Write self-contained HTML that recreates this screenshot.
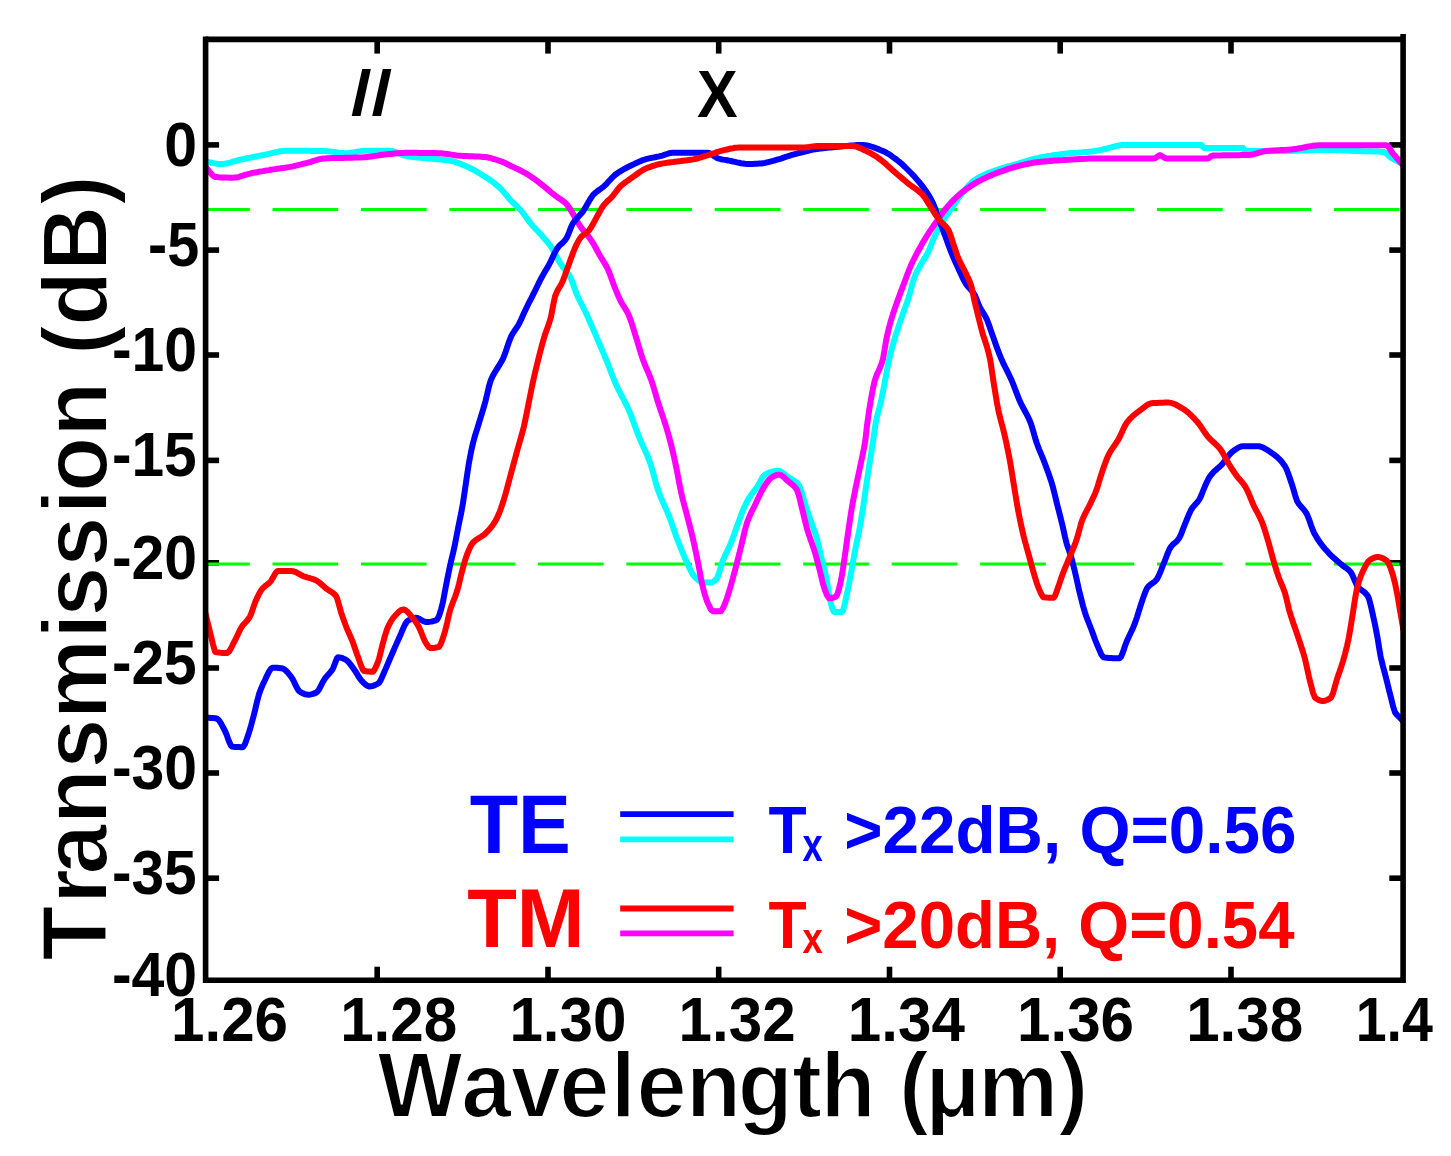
<!DOCTYPE html>
<html lang="en"><head><meta charset="utf-8"><title>Transmission vs Wavelength</title>
<style>html,body{margin:0;padding:0;background:#fff;overflow:hidden}svg{display:block}text{font-family:"Liberation Sans",Arial,Helvetica,sans-serif;font-weight:bold;font-kerning:none}</style>
</head><body>
<svg width="1451" height="1156" viewBox="0 0 1451 1156">
<rect width="1451" height="1156" fill="#fff"/>
<defs><clipPath id="plot"><rect x="204" y="39.4" width="1199" height="940.8"/></clipPath></defs>
<g stroke="#000" stroke-width="5.6" fill="none">
<line x1="377.2" y1="39.4" x2="377.2" y2="53.6"/>
<line x1="377.2" y1="980.2" x2="377.2" y2="966.7"/>
<line x1="548.0" y1="39.4" x2="548.0" y2="53.6"/>
<line x1="548.0" y1="980.2" x2="548.0" y2="966.7"/>
<line x1="718.7" y1="39.4" x2="718.7" y2="53.6"/>
<line x1="718.7" y1="980.2" x2="718.7" y2="966.7"/>
<line x1="889.5" y1="39.4" x2="889.5" y2="53.6"/>
<line x1="889.5" y1="980.2" x2="889.5" y2="966.7"/>
<line x1="1060.2" y1="39.4" x2="1060.2" y2="53.6"/>
<line x1="1060.2" y1="980.2" x2="1060.2" y2="966.7"/>
<line x1="1231.0" y1="39.4" x2="1231.0" y2="53.6"/>
<line x1="1231.0" y1="980.2" x2="1231.0" y2="966.7"/>
<line x1="205.6" y1="144.9" x2="219.1" y2="144.9"/>
<line x1="1403.1" y1="144.9" x2="1389.3" y2="144.9"/>
<line x1="205.6" y1="250.1" x2="219.1" y2="250.1"/>
<line x1="1403.1" y1="250.1" x2="1389.3" y2="250.1"/>
<line x1="205.6" y1="355.0" x2="219.1" y2="355.0"/>
<line x1="1403.1" y1="355.0" x2="1389.3" y2="355.0"/>
<line x1="205.6" y1="460.4" x2="219.1" y2="460.4"/>
<line x1="1403.1" y1="460.4" x2="1389.3" y2="460.4"/>
<line x1="205.6" y1="562.8" x2="219.1" y2="562.8"/>
<line x1="1403.1" y1="562.8" x2="1389.3" y2="562.8"/>
<line x1="205.6" y1="668.0" x2="219.1" y2="668.0"/>
<line x1="1403.1" y1="668.0" x2="1389.3" y2="668.0"/>
<line x1="205.6" y1="773.0" x2="219.1" y2="773.0"/>
<line x1="1403.1" y1="773.0" x2="1389.3" y2="773.0"/>
<line x1="205.6" y1="878.2" x2="219.1" y2="878.2"/>
<line x1="1403.1" y1="878.2" x2="1389.3" y2="878.2"/>
</g>
<g clip-path="url(#plot)" stroke="#00ff00" stroke-width="3" fill="none" stroke-dasharray="65.7 22.75">
<line x1="184.05" y1="209.6" x2="1401" y2="209.6"/>
<line x1="184.05" y1="563.9" x2="1401" y2="563.9"/>
</g>
<g clip-path="url(#plot)" fill="none" stroke-width="6" stroke-linejoin="round" stroke-linecap="butt">
<path stroke="#00ffff" d="M203.0 161.0L205.0 161.3L206.2 161.5L207.0 161.6L209.0 162.1L211.0 162.5L213.0 163.0L215.0 163.4L217.0 163.7L219.0 163.9L220.8 164.0L221.0 164.0L223.0 163.9L225.0 163.7L227.0 163.3L229.0 162.8L231.0 162.3L233.0 161.7L235.0 161.1L237.0 160.5L239.0 160.0L241.0 159.5L241.5 159.4L243.0 159.1L245.0 158.7L247.0 158.3L249.0 157.9L251.0 157.5L253.0 157.1L255.0 156.7L257.0 156.3L259.0 155.9L261.0 155.5L262.3 155.3L263.0 155.2L265.0 154.7L267.0 154.3L269.0 153.8L271.0 153.3L273.0 152.8L275.0 152.3L277.0 151.9L279.0 151.5L281.0 151.2L283.0 150.9L285.0 150.8L287.0 150.7L287.2 150.7L289.0 150.7L291.0 150.7L293.0 150.7L295.0 150.7L297.0 150.7L299.0 150.7L301.0 150.8L303.0 150.8L305.0 150.8L307.0 150.8L309.0 150.8L311.0 150.9L313.0 150.9L315.0 150.9L317.0 151.0L319.0 151.0L321.0 151.0L323.0 151.1L324.6 151.1L325.0 151.1L327.0 151.2L329.0 151.4L331.0 151.6L333.0 151.9L335.0 152.2L337.0 152.5L339.0 152.8L341.0 153.0L343.0 153.1L345.0 153.2L345.3 153.2L347.0 153.2L349.0 153.0L351.0 152.7L353.0 152.4L355.0 152.1L357.0 151.7L359.0 151.4L361.0 151.1L363.0 150.8L365.0 150.7L366.0 150.7L367.0 150.7L369.0 150.7L371.0 150.7L373.0 150.7L375.0 150.7L377.0 150.7L379.0 150.7L381.0 150.7L383.0 150.7L385.0 150.7L387.0 150.7L388.9 150.7L389.0 150.7L391.0 150.9L393.0 151.3L395.0 151.9L397.0 152.6L399.0 153.5L401.0 154.3L403.0 155.1L405.0 155.7L407.0 156.2L407.6 156.3L409.0 156.5L411.0 156.8L413.0 157.0L415.0 157.2L417.0 157.4L419.0 157.6L421.0 157.7L423.0 157.9L425.0 158.1L427.0 158.3L428.4 158.4L429.0 158.5L431.0 158.6L433.0 158.8L435.0 159.0L437.0 159.2L439.0 159.3L441.0 159.5L443.0 159.7L445.0 159.9L447.0 160.2L449.0 160.5L451.0 160.9L453.0 161.4L455.0 161.9L457.0 162.6L459.0 163.3L461.0 164.1L463.0 164.9L465.0 165.7L465.7 166.0L467.0 166.6L469.0 167.5L471.0 168.5L473.0 169.5L475.0 170.6L477.0 171.8L479.0 173.0L481.0 174.2L482.3 175.0L483.0 175.4L485.0 176.7L487.0 178.0L489.0 179.3L491.0 180.7L493.0 182.2L495.0 183.7L497.0 185.4L499.0 187.1L500.0 188.0L501.0 189.0L503.0 191.2L505.0 193.6L507.0 196.0L509.0 198.4L510.4 200.0L511.0 200.6L513.0 202.6L515.0 204.5L517.0 206.4L519.0 208.4L520.8 210.3L521.0 210.5L523.0 213.0L525.0 215.7L527.0 218.5L529.0 221.3L531.0 223.8L533.0 226.1L535.0 228.3L537.0 230.3L539.0 232.4L541.0 234.6L541.5 235.2L543.0 236.9L545.0 239.2L547.0 241.5L549.0 244.0L550.9 246.6L551.0 246.7L553.0 250.0L555.0 253.7L557.0 257.5L559.0 261.2L560.2 263.2L561.0 264.4L563.0 267.1L565.0 269.6L567.0 272.1L569.0 275.0L570.6 277.8L571.0 278.6L573.0 283.7L575.0 289.6L576.8 294.4L577.0 294.9L579.0 299.2L581.0 303.1L583.0 307.0L585.0 311.0L587.0 315.3L589.0 319.7L591.0 324.2L593.0 328.8L593.4 329.7L595.0 333.4L597.0 338.1L599.0 342.8L599.6 344.2L601.0 347.5L603.0 352.1L605.0 356.8L605.9 359.0L607.0 361.7L609.0 366.8L611.0 372.0L613.0 377.1L615.0 382.0L616.3 385.0L617.0 386.5L619.0 390.7L621.0 394.5L623.0 398.3L625.0 402.1L627.0 406.1L628.7 409.8L629.0 410.5L631.0 415.4L633.0 420.7L635.0 426.2L637.0 431.6L639.0 436.8L641.0 441.5L643.0 445.9L645.0 450.3L647.0 454.9L649.0 459.8L650.0 462.5L651.0 465.5L653.0 472.3L655.0 479.7L657.0 486.8L658.7 492.0L659.0 492.8L661.0 497.9L663.0 502.4L665.0 506.8L667.0 511.2L669.0 516.0L671.0 521.4L673.0 527.1L675.0 532.9L677.0 538.5L677.7 540.3L679.0 543.6L681.0 548.7L683.0 553.6L685.0 558.2L686.3 561.0L687.0 562.5L689.0 566.9L691.0 571.1L693.0 574.7L695.0 577.2L697.0 579.0L699.0 580.6L701.0 581.8L703.0 582.5L704.0 582.6L705.0 582.6L707.0 582.6L709.0 582.6L711.0 582.6L713.0 582.0L715.0 580.4L716.6 578.8L717.0 578.3L719.0 573.2L721.0 566.2L722.7 561.0L723.0 560.2L725.0 555.6L727.0 551.4L729.0 547.2L731.0 542.7L731.3 542.0L733.0 537.6L735.0 532.0L737.0 526.3L738.2 523.0L739.0 520.8L741.0 515.3L743.0 510.1L743.4 509.2L745.0 505.7L747.0 501.6L748.6 498.8L749.0 498.1L751.0 495.2L753.0 492.5L755.0 489.9L757.0 487.1L757.3 486.7L759.0 483.8L761.0 480.0L763.0 476.6L765.0 474.6L767.0 473.6L769.0 472.7L771.0 472.0L773.0 471.4L775.0 471.0L777.0 470.8L778.0 470.8L779.0 470.9L781.0 471.7L783.0 473.0L785.0 474.6L787.0 476.2L788.4 477.2L789.0 477.6L791.0 478.8L793.0 480.0L795.0 481.3L797.0 483.0L798.8 485.0L799.0 485.3L801.0 489.8L803.0 496.5L805.0 503.5L805.7 505.7L807.0 509.6L809.0 515.7L810.9 521.3L811.0 521.6L813.0 527.0L815.0 532.4L817.0 538.6L819.0 547.0L821.0 556.3L821.3 557.6L823.0 564.2L825.0 571.8L826.5 578.4L827.0 581.1L829.0 594.6L830.0 599.8L831.0 603.8L833.0 610.4L834.3 612.0L835.0 612.0L837.0 612.0L839.0 612.0L841.0 612.0L842.0 612.0L843.0 610.7L845.0 602.9L846.4 596.5L847.0 593.9L849.0 584.0L850.7 575.0L851.0 573.4L853.0 561.9L855.0 550.7L857.0 541.1L859.0 531.6L859.3 530.0L861.0 520.4L862.8 509.2L863.0 507.9L865.0 494.1L866.3 485.0L867.0 480.3L869.0 467.1L869.7 462.5L871.0 454.2L873.0 441.3L873.2 440.0L875.0 427.2L875.8 422.3L877.0 416.8L879.0 409.3L881.0 401.5L883.0 391.4L885.0 380.8L887.0 370.3L889.0 360.3L889.3 359.0L891.0 352.0L893.0 344.5L895.0 337.6L895.5 335.9L897.0 331.1L899.0 325.1L901.0 319.2L901.7 317.2L903.0 313.5L905.0 308.0L907.0 302.5L909.0 296.5L911.0 289.1L913.0 281.5L914.2 277.8L915.0 275.8L917.0 271.5L919.0 267.8L920.4 265.3L921.0 264.2L923.0 260.9L925.0 257.7L927.0 254.2L927.7 252.9L929.0 250.1L931.0 245.2L933.0 240.3L933.9 238.3L935.0 235.9L937.0 231.8L939.0 227.8L941.0 224.1L941.2 223.8L943.0 220.8L945.0 217.8L947.0 214.9L949.0 212.0L949.5 211.3L951.0 209.1L953.0 206.0L955.0 203.0L957.0 200.1L959.0 197.3L960.0 196.0L961.0 194.7L963.0 192.2L965.0 189.7L967.0 187.3L969.0 185.0L971.0 183.0L973.0 181.2L974.4 180.2L975.0 179.8L977.0 178.6L979.0 177.4L981.0 176.4L983.0 175.4L985.0 174.5L987.0 173.6L989.0 172.8L991.0 172.1L993.0 171.3L995.0 170.6L997.0 169.9L997.2 169.8L999.0 169.2L1001.0 168.5L1003.0 167.9L1005.0 167.3L1007.0 166.7L1009.0 166.1L1011.0 165.6L1013.0 165.0L1015.0 164.5L1017.0 163.9L1018.0 163.6L1019.0 163.3L1021.0 162.7L1023.0 162.1L1025.0 161.5L1027.0 160.9L1029.0 160.3L1031.0 159.7L1033.0 159.2L1035.0 158.6L1037.0 158.2L1038.7 157.8L1039.0 157.7L1041.0 157.3L1043.0 157.0L1045.0 156.6L1047.0 156.2L1049.0 155.9L1051.0 155.6L1053.0 155.2L1055.0 154.9L1057.0 154.7L1059.0 154.4L1061.0 154.1L1063.0 153.9L1065.0 153.7L1065.7 153.6L1067.0 153.5L1069.0 153.3L1071.0 153.1L1073.0 153.0L1075.0 152.8L1077.0 152.7L1079.0 152.6L1081.0 152.4L1083.0 152.3L1085.0 152.1L1087.0 152.0L1089.0 151.8L1090.6 151.6L1091.0 151.6L1093.0 151.3L1095.0 151.0L1097.0 150.6L1099.0 150.3L1100.0 150.1L1101.0 149.9L1103.0 149.5L1105.0 149.0L1107.0 148.5L1109.0 147.9L1111.0 147.4L1113.0 146.9L1115.0 146.4L1117.0 145.9L1119.0 145.5L1121.0 145.3L1123.0 145.1L1125.0 145.0L1127.0 145.0L1129.0 145.0L1131.0 145.0L1133.0 145.0L1135.0 145.0L1137.0 145.0L1139.0 145.0L1141.0 145.0L1143.0 145.0L1145.0 145.0L1147.0 145.0L1149.0 145.0L1151.0 145.0L1153.0 145.0L1155.0 145.0L1157.0 145.0L1159.0 145.0L1161.0 145.0L1163.0 145.0L1165.0 145.0L1167.0 145.0L1169.0 145.0L1171.0 145.0L1173.0 145.0L1175.0 145.0L1177.0 145.0L1179.0 145.0L1181.0 145.0L1183.0 145.0L1185.0 145.0L1187.0 145.0L1189.0 145.0L1191.0 145.0L1193.0 145.0L1195.0 145.0L1197.0 145.0L1199.0 145.0L1201.0 145.0L1201.7 145.0L1203.0 147.0L1203.8 148.0L1205.0 148.0L1207.0 148.0L1209.0 148.0L1211.0 148.0L1213.0 148.0L1215.0 148.0L1217.0 148.0L1219.0 148.0L1221.0 148.0L1223.0 148.0L1225.0 148.0L1227.0 148.0L1229.0 148.0L1231.0 148.0L1233.0 148.0L1235.0 148.0L1237.0 148.0L1239.0 148.0L1241.0 148.0L1243.0 148.0L1243.2 148.0L1245.0 150.8L1245.3 151.0L1247.0 151.0L1249.0 151.0L1251.0 151.0L1253.0 151.0L1255.0 151.0L1257.0 151.0L1259.0 151.0L1261.0 151.0L1263.0 151.0L1265.0 151.0L1267.0 151.0L1269.0 151.0L1271.0 151.0L1273.0 151.0L1275.0 151.0L1277.0 151.0L1279.0 151.0L1280.0 151.0L1281.0 151.0L1283.0 151.0L1285.0 151.0L1287.0 150.9L1289.0 150.9L1291.0 150.9L1293.0 150.8L1295.0 150.8L1297.0 150.7L1299.0 150.6L1301.0 150.6L1303.0 150.5L1305.0 150.4L1307.0 150.4L1309.0 150.3L1311.0 150.2L1313.0 150.2L1315.0 150.1L1317.0 150.1L1319.0 150.1L1321.0 150.0L1323.0 150.0L1325.0 150.0L1326.0 150.0L1327.0 150.0L1329.0 150.0L1331.0 150.0L1333.0 150.1L1335.0 150.1L1337.0 150.2L1339.0 150.3L1341.0 150.3L1343.0 150.4L1345.0 150.5L1347.0 150.6L1349.0 150.7L1351.0 150.8L1353.0 150.8L1355.0 150.9L1357.0 151.0L1359.0 151.1L1361.0 151.1L1363.0 151.2L1365.0 151.2L1367.0 151.2L1369.0 151.3L1371.0 151.3L1373.0 151.4L1375.0 151.5L1377.0 151.5L1379.0 151.6L1381.0 151.8L1383.0 151.9L1384.0 152.0L1385.0 152.3L1387.0 153.9L1389.0 156.0L1390.6 157.4L1391.0 157.7L1393.0 158.9L1395.0 159.9L1397.0 160.9L1399.0 162.0L1401.0 163.1L1403.0 164.2L1403.5 164.5"/>
<path stroke="#ff00ff" d="M203.0 164.5L205.0 166.5L206.2 167.7L207.0 168.5L209.0 171.0L211.0 173.5L213.0 175.7L215.0 176.9L215.6 177.0L217.0 177.1L219.0 177.3L221.0 177.4L223.0 177.5L225.0 177.6L227.0 177.6L229.0 177.7L231.0 177.7L233.0 177.7L233.2 177.7L235.0 177.6L237.0 177.3L239.0 176.8L241.0 176.2L243.0 175.6L245.0 174.9L247.0 174.3L249.0 173.8L249.8 173.6L251.0 173.3L253.0 172.9L255.0 172.5L257.0 172.2L259.0 171.8L261.0 171.4L263.0 171.1L265.0 170.7L267.0 170.4L269.0 170.1L270.6 169.8L271.0 169.7L273.0 169.4L275.0 169.1L277.0 168.8L279.0 168.6L281.0 168.3L283.0 168.0L285.0 167.7L287.0 167.4L289.0 167.1L291.0 166.8L291.3 166.7L293.0 166.4L295.0 165.9L297.0 165.4L299.0 164.9L301.0 164.4L303.0 163.9L305.0 163.4L307.0 162.9L308.0 162.6L309.0 162.3L311.0 161.8L313.0 161.1L315.0 160.5L317.0 159.9L319.0 159.3L321.0 158.9L323.0 158.5L324.6 158.4L325.0 158.4L327.0 158.3L329.0 158.2L331.0 158.1L333.0 158.1L335.0 158.0L337.0 158.0L339.0 157.9L341.0 157.9L343.0 157.9L345.0 157.8L347.0 157.8L349.0 157.8L351.0 157.7L353.0 157.7L355.0 157.6L357.0 157.6L359.0 157.5L361.0 157.4L362.0 157.4L363.0 157.3L365.0 157.2L367.0 157.0L369.0 156.8L371.0 156.5L373.0 156.2L375.0 155.9L377.0 155.6L379.0 155.3L381.0 155.0L383.0 154.7L385.0 154.5L386.8 154.3L387.0 154.3L389.0 154.1L391.0 153.9L393.0 153.7L395.0 153.5L397.0 153.3L399.0 153.2L401.0 153.0L403.0 152.9L405.0 152.8L407.0 152.8L407.6 152.8L409.0 152.8L411.0 152.8L413.0 152.8L415.0 152.8L417.0 152.8L419.0 152.9L421.0 152.9L423.0 152.9L425.0 152.9L427.0 153.0L429.0 153.0L431.0 153.0L433.0 153.1L435.0 153.1L437.0 153.2L438.7 153.2L439.0 153.2L441.0 153.3L443.0 153.5L445.0 153.7L447.0 154.0L449.0 154.3L451.0 154.6L453.0 154.9L455.0 155.2L457.0 155.5L459.0 155.7L459.5 155.7L461.0 155.8L463.0 155.9L465.0 156.0L467.0 156.1L469.0 156.2L471.0 156.3L473.0 156.3L475.0 156.4L477.0 156.5L479.0 156.6L481.0 156.7L483.0 156.9L484.4 157.0L485.0 157.1L487.0 157.3L489.0 157.7L491.0 158.2L493.0 158.8L495.0 159.4L497.0 160.0L499.0 160.7L500.0 161.0L501.0 161.3L503.0 162.1L505.0 163.0L507.0 164.0L509.0 165.0L511.0 166.0L512.5 166.7L513.0 166.9L515.0 167.9L517.0 168.8L519.0 169.8L521.0 170.8L523.0 171.8L525.0 172.9L527.0 174.0L529.0 175.2L531.0 176.6L533.0 178.0L535.0 179.4L537.0 180.9L539.0 182.5L541.0 184.0L541.5 184.4L543.0 185.6L545.0 187.2L547.0 188.9L549.0 190.6L551.0 192.3L553.0 193.9L554.0 194.7L555.0 195.5L557.0 196.9L559.0 198.2L561.0 199.5L563.0 201.0L565.0 202.6L566.4 204.0L567.0 204.7L569.0 207.4L571.0 210.6L572.7 213.4L573.0 213.9L575.0 217.3L577.0 220.9L579.0 224.3L580.0 225.9L581.0 227.3L583.0 229.9L585.0 232.4L587.0 234.7L589.0 237.2L591.0 240.0L591.3 240.4L593.0 243.1L595.0 246.6L597.0 250.3L599.0 253.9L599.6 255.0L601.0 257.4L603.0 260.6L605.0 263.8L607.0 267.5L608.0 269.5L609.0 271.8L611.0 277.2L613.0 282.8L614.2 286.0L615.0 288.0L617.0 293.0L619.0 297.6L620.4 300.6L621.0 301.8L623.0 305.2L625.0 308.3L627.0 311.6L628.7 315.0L629.0 315.7L631.0 321.1L633.0 327.4L635.0 333.8L637.0 340.3L639.0 347.2L641.0 353.8L642.7 359.0L643.0 359.8L645.0 365.0L647.0 369.7L649.0 374.3L651.0 379.4L651.5 380.8L653.0 385.4L655.0 392.1L657.0 398.9L657.8 401.5L659.0 405.2L661.0 411.2L663.0 417.1L665.0 423.2L666.0 426.4L667.0 429.7L669.0 436.7L669.9 440.0L671.0 444.3L673.0 452.5L675.0 461.4L676.0 466.0L677.0 471.0L679.0 481.9L681.0 492.0L683.0 500.3L685.0 507.7L687.0 515.2L687.2 516.0L689.0 523.0L691.0 530.8L693.0 539.0L693.3 540.3L695.0 548.0L697.0 557.7L698.4 564.6L699.0 567.7L701.0 578.5L702.8 587.0L703.0 587.8L705.0 595.1L707.0 601.2L708.0 603.5L709.0 605.6L711.0 609.6L713.0 611.3L715.0 611.3L717.0 611.3L719.0 611.3L720.5 611.3L721.0 611.1L723.0 608.1L725.0 603.5L727.0 598.2L729.0 591.7L730.4 587.0L731.0 585.0L733.0 577.8L735.0 570.3L736.5 564.6L737.0 562.7L739.0 554.7L741.0 546.6L741.7 543.8L743.0 538.3L745.0 529.8L746.9 523.0L747.0 522.7L749.0 517.5L751.0 513.0L753.0 509.0L755.0 505.0L755.5 504.0L757.0 500.8L759.0 496.5L761.0 492.4L763.0 488.7L764.2 486.7L765.0 485.5L767.0 482.4L769.0 479.8L771.0 478.0L773.0 476.7L775.0 475.6L777.0 474.9L778.9 474.6L779.0 474.6L781.0 475.2L783.0 476.5L785.0 478.3L787.0 480.2L788.4 481.5L789.0 482.0L791.0 483.5L793.0 485.2L795.0 487.2L797.0 490.0L799.0 495.8L801.0 504.2L802.2 509.2L803.0 512.4L805.0 520.7L807.0 528.6L807.4 530.0L809.0 535.1L811.0 540.7L813.0 546.4L814.4 550.7L815.0 552.7L817.0 559.9L819.0 567.5L819.6 569.8L821.0 575.5L823.0 583.9L824.7 589.5L825.0 590.3L827.0 595.2L829.0 598.1L829.5 598.3L831.0 598.2L833.0 597.8L835.0 597.0L836.0 596.5L837.0 595.2L839.0 589.0L841.0 580.3L841.2 579.4L843.0 568.8L844.6 557.6L845.0 554.9L847.0 540.5L848.0 533.4L849.0 526.4L851.0 512.9L851.6 509.2L853.0 501.4L855.0 491.2L855.9 486.7L857.0 481.4L859.0 472.0L861.0 462.5L863.0 453.2L865.0 442.6L865.4 440.0L866.9 426.4L867.0 425.6L869.0 411.3L870.6 401.5L871.0 399.2L873.0 388.2L874.7 380.8L875.0 379.8L877.0 374.2L879.0 369.9L881.0 365.3L883.0 359.0L885.0 347.2L886.2 340.0L887.0 336.2L889.0 327.7L891.0 320.3L891.3 319.3L893.0 313.8L895.0 307.9L897.0 302.3L897.6 300.6L899.0 296.7L901.0 291.4L903.0 286.1L903.8 284.0L905.0 280.8L907.0 275.4L909.0 270.1L911.0 265.3L913.0 261.0L915.0 257.0L917.0 253.2L918.3 250.8L919.0 249.5L921.0 245.9L923.0 242.3L925.0 238.9L926.6 236.3L927.0 235.7L929.0 232.6L931.0 229.6L933.0 226.7L935.0 223.8L937.0 220.9L939.0 217.9L941.0 215.1L943.0 212.3L945.0 209.7L945.3 209.3L947.0 207.2L949.0 204.9L951.0 202.7L953.0 200.5L955.0 198.6L955.7 197.9L957.0 196.7L959.0 194.9L961.0 193.2L963.0 191.6L965.0 190.1L967.0 188.6L969.0 187.2L970.2 186.4L971.0 185.9L973.0 184.6L975.0 183.4L977.0 182.2L979.0 181.1L981.0 180.1L982.7 179.2L983.0 179.1L985.0 178.1L987.0 177.1L989.0 176.2L991.0 175.4L993.0 174.5L995.0 173.7L997.0 173.0L997.2 172.9L999.0 172.2L1001.0 171.5L1003.0 170.8L1005.0 170.1L1007.0 169.4L1009.0 168.7L1011.0 168.1L1013.0 167.5L1015.0 167.0L1016.0 166.7L1017.0 166.4L1019.0 165.9L1021.0 165.4L1023.0 164.9L1025.0 164.4L1027.0 164.0L1029.0 163.5L1031.0 163.2L1033.0 162.8L1034.6 162.6L1035.0 162.5L1037.0 162.3L1039.0 162.1L1041.0 161.8L1043.0 161.6L1045.0 161.4L1047.0 161.2L1049.0 161.1L1051.0 160.9L1053.0 160.7L1055.0 160.6L1057.0 160.5L1059.0 160.3L1061.0 160.2L1063.0 160.1L1065.0 159.9L1065.7 159.9L1067.0 159.8L1069.0 159.7L1071.0 159.6L1073.0 159.5L1075.0 159.3L1077.0 159.2L1079.0 159.1L1081.0 159.0L1083.0 158.9L1085.0 158.8L1087.0 158.7L1089.0 158.6L1091.0 158.6L1093.0 158.5L1095.0 158.4L1097.0 158.4L1099.0 158.4L1100.0 158.4L1101.0 158.4L1103.0 158.4L1105.0 158.4L1107.0 158.4L1109.0 158.4L1111.0 158.4L1113.0 158.4L1115.0 158.4L1117.0 158.4L1119.0 158.4L1121.0 158.4L1123.0 158.4L1125.0 158.4L1127.0 158.4L1129.0 158.4L1131.0 158.4L1133.0 158.4L1135.0 158.4L1137.0 158.4L1139.0 158.4L1141.0 158.4L1143.0 158.4L1145.0 158.4L1147.0 158.4L1149.0 158.4L1151.0 158.4L1153.0 158.4L1154.0 158.4L1155.0 158.2L1157.0 156.9L1159.0 155.5L1160.0 155.3L1161.0 155.5L1163.0 156.7L1165.0 158.0L1166.4 158.4L1167.0 158.4L1169.0 158.4L1171.0 158.4L1173.0 158.4L1175.0 158.4L1177.0 158.4L1179.0 158.4L1181.0 158.4L1183.0 158.4L1185.0 158.4L1187.0 158.4L1189.0 158.4L1191.0 158.4L1193.0 158.4L1195.0 158.4L1197.0 158.4L1199.0 158.4L1201.0 158.4L1203.0 158.4L1205.0 158.4L1207.0 158.4L1208.0 158.4L1209.0 158.0L1211.0 156.2L1212.0 155.7L1213.0 155.6L1215.0 155.6L1217.0 155.5L1219.0 155.4L1221.0 155.4L1223.0 155.3L1225.0 155.3L1227.0 155.3L1229.0 155.3L1231.0 155.2L1233.0 155.2L1235.0 155.2L1237.0 155.2L1239.0 155.2L1241.0 155.1L1243.0 155.1L1245.0 155.1L1247.0 155.0L1249.0 154.9L1249.5 154.9L1251.0 154.8L1253.0 154.4L1255.0 153.9L1257.0 153.4L1259.0 152.7L1261.0 152.1L1263.0 151.6L1265.0 151.2L1266.0 151.1L1267.0 151.0L1269.0 150.8L1271.0 150.7L1273.0 150.5L1275.0 150.4L1277.0 150.3L1279.0 150.2L1281.0 150.1L1283.0 150.0L1285.0 149.9L1287.0 149.8L1289.0 149.7L1291.0 149.5L1293.0 149.3L1295.0 149.0L1297.0 148.7L1299.0 148.3L1301.0 148.0L1303.0 147.6L1305.0 147.2L1307.0 146.8L1309.0 146.4L1311.0 146.1L1313.0 145.8L1315.0 145.6L1317.0 145.4L1319.0 145.3L1320.0 145.3L1321.0 145.3L1323.0 145.3L1325.0 145.3L1327.0 145.3L1329.0 145.3L1331.0 145.3L1333.0 145.3L1335.0 145.3L1337.0 145.3L1339.0 145.3L1341.0 145.3L1343.0 145.3L1345.0 145.3L1347.0 145.3L1349.0 145.3L1351.0 145.3L1353.0 145.3L1355.0 145.3L1357.0 145.3L1359.0 145.3L1361.0 145.3L1363.0 145.3L1365.0 145.3L1367.0 145.3L1369.0 145.3L1371.0 145.3L1373.0 145.3L1375.0 145.3L1377.0 145.3L1379.0 145.3L1381.0 145.3L1383.0 145.3L1385.0 145.3L1386.5 145.3L1387.0 145.4L1389.0 147.4L1391.0 150.7L1392.7 153.2L1393.0 153.6L1395.0 155.9L1397.0 158.2L1399.0 160.5L1401.0 162.8L1403.0 165.1L1403.5 165.7"/>
<path stroke="#0000ff" d="M203.0 717.2L205.0 717.4L206.2 717.5L207.0 717.6L209.0 717.7L211.0 717.9L213.0 718.0L215.0 718.2L216.6 718.5L217.0 718.6L219.0 720.3L221.0 723.4L223.0 727.2L225.0 731.0L227.0 735.7L229.0 741.4L231.0 745.6L232.2 746.6L233.0 746.7L235.0 746.9L237.0 747.0L239.0 747.1L241.0 747.2L242.6 747.2L243.0 747.1L245.0 744.1L247.0 738.4L248.8 733.0L249.0 732.4L251.0 725.8L253.0 718.2L254.0 714.4L255.0 710.4L257.0 701.8L259.0 694.2L259.2 693.6L261.0 688.7L263.0 684.1L264.4 681.2L265.0 680.0L267.0 675.6L269.0 671.6L271.0 668.6L272.7 667.7L273.0 667.7L275.0 667.7L277.0 667.8L279.0 668.0L281.0 668.2L282.0 668.3L283.0 668.6L285.0 669.8L287.0 671.7L289.0 674.1L291.0 676.6L291.3 677.0L293.0 679.7L295.0 683.9L297.0 688.0L299.0 691.0L299.6 691.5L301.0 692.3L303.0 693.4L305.0 694.2L307.0 694.6L308.0 694.7L309.0 694.7L311.0 694.4L313.0 693.9L315.0 693.1L316.3 692.6L317.0 692.1L319.0 689.5L321.0 685.7L323.0 681.7L324.6 679.0L325.0 678.4L327.0 676.0L329.0 673.8L331.0 671.4L332.9 668.7L333.0 668.5L335.0 663.3L337.0 658.2L338.0 657.3L339.0 657.4L341.0 657.7L343.0 658.4L345.0 659.3L345.3 659.4L347.0 660.5L349.0 662.6L351.0 665.2L353.0 667.9L353.6 668.7L355.0 670.7L357.0 673.9L359.0 677.2L361.0 680.1L362.0 681.2L363.0 682.2L365.0 684.1L367.0 685.7L369.0 686.4L369.2 686.4L371.0 686.3L373.0 685.8L375.0 685.1L377.0 684.1L378.5 683.2L379.0 682.8L381.0 679.6L383.0 675.0L384.8 670.8L385.0 670.4L387.0 665.8L389.0 661.0L391.0 656.3L393.0 651.7L395.0 647.1L397.0 642.6L399.0 638.2L399.3 637.6L401.0 633.7L403.0 628.8L405.0 624.5L407.0 621.5L407.6 621.0L409.0 620.1L411.0 619.1L413.0 618.3L415.0 617.9L416.0 617.8L417.0 617.9L419.0 618.7L421.0 619.8L423.0 621.0L425.0 621.8L426.3 622.0L427.0 622.0L429.0 621.9L431.0 621.6L433.0 621.2L435.0 620.6L436.7 620.0L437.0 619.8L439.0 616.1L441.0 609.6L441.9 606.4L443.0 601.8L445.0 591.0L446.0 585.7L447.0 580.7L449.0 570.7L450.2 565.0L451.0 561.5L453.0 553.2L454.3 547.5L455.0 544.1L457.0 533.8L458.5 526.0L459.0 523.5L461.0 513.8L462.6 505.3L463.0 502.9L465.0 489.4L465.7 484.6L467.0 475.6L468.8 463.8L469.0 462.7L471.0 452.0L473.0 443.0L475.0 435.7L477.0 429.3L479.0 423.0L479.2 422.3L481.0 416.4L483.0 409.8L485.0 402.9L485.4 401.5L487.0 394.9L489.0 386.2L490.6 380.8L491.0 379.8L493.0 375.5L495.0 372.0L497.0 368.8L499.0 365.7L500.0 364.0L501.0 362.3L503.0 358.7L505.0 353.7L507.0 347.8L509.0 341.8L511.0 336.7L511.4 335.9L513.0 333.1L515.0 330.1L517.0 327.3L518.7 324.5L519.0 323.9L521.0 319.8L523.0 315.2L524.9 311.0L525.0 310.8L527.0 306.7L529.0 302.7L531.0 298.8L533.0 294.8L533.2 294.4L535.0 290.8L537.0 286.7L539.0 282.6L541.0 278.7L541.5 277.8L543.0 275.1L545.0 271.6L547.0 268.2L549.0 264.7L549.8 263.2L551.0 260.8L553.0 256.4L555.0 252.2L557.0 248.7L559.0 246.2L561.0 244.2L563.0 242.4L565.0 240.2L566.4 238.3L567.0 237.3L569.0 232.6L571.0 227.4L572.7 223.8L573.0 223.3L575.0 220.5L577.0 218.1L579.0 216.0L581.0 213.8L583.0 211.3L585.0 208.2L587.0 204.7L589.0 201.2L591.0 197.9L593.0 195.1L593.4 194.7L595.0 193.1L597.0 191.5L599.0 190.0L601.0 188.6L603.0 187.1L603.8 186.4L605.0 185.3L607.0 183.3L609.0 181.1L611.0 178.9L613.0 176.9L615.0 175.0L616.3 174.0L617.0 173.5L619.0 172.1L621.0 170.9L623.0 169.7L625.0 168.6L627.0 167.5L629.0 166.5L631.0 165.5L632.9 164.6L633.0 164.6L635.0 163.6L637.0 162.7L639.0 161.8L641.0 160.9L643.0 160.2L645.0 159.5L645.3 159.4L647.0 158.9L649.0 158.4L651.0 158.0L653.0 157.6L655.0 157.2L657.0 156.8L659.0 156.4L661.0 155.9L662.0 155.7L663.0 155.4L665.0 154.7L667.0 154.0L669.0 153.3L671.0 152.9L672.3 152.8L673.0 152.8L675.0 152.8L677.0 152.8L679.0 152.8L681.0 152.8L683.0 152.8L685.0 152.8L687.0 152.8L689.0 152.8L691.0 152.8L693.0 152.8L695.0 152.8L697.0 152.8L699.0 152.8L701.0 152.8L703.0 152.8L705.0 152.8L707.0 152.8L707.6 152.8L709.0 153.0L711.0 154.0L713.0 155.4L715.0 156.8L717.0 158.0L718.0 158.4L719.0 158.7L721.0 159.2L723.0 159.6L725.0 159.9L727.0 160.2L728.4 160.5L729.0 160.6L731.0 161.0L733.0 161.5L735.0 161.9L737.0 162.4L739.0 162.8L741.0 163.2L743.0 163.5L745.0 163.8L747.0 163.9L749.0 164.0L751.0 164.0L753.0 163.9L755.0 163.8L757.0 163.7L759.0 163.6L759.5 163.6L761.0 163.5L763.0 163.2L765.0 162.9L767.0 162.4L769.0 162.0L771.0 161.4L773.0 160.9L775.0 160.3L777.0 159.7L778.2 159.4L779.0 159.2L781.0 158.6L783.0 157.9L785.0 157.2L787.0 156.5L789.0 155.8L790.6 155.3L791.0 155.2L793.0 154.6L795.0 154.1L797.0 153.6L799.0 153.0L800.0 152.8L801.0 152.5L803.0 152.0L805.0 151.5L807.0 151.0L809.0 150.5L811.0 150.1L813.0 149.6L815.0 149.3L816.6 149.0L817.0 148.9L819.0 148.7L821.0 148.4L823.0 148.2L825.0 148.0L827.0 147.8L829.0 147.6L831.0 147.4L833.0 147.2L835.0 147.0L835.3 147.0L837.0 146.8L839.0 146.7L841.0 146.5L843.0 146.3L845.0 146.1L847.0 145.9L849.0 145.7L851.0 145.5L853.0 145.4L855.0 145.2L857.0 145.1L859.0 145.1L861.0 145.0L862.3 145.0L863.0 145.0L865.0 145.2L867.0 145.5L869.0 145.9L871.0 146.5L873.0 147.1L875.0 147.8L877.0 148.6L879.0 149.4L881.0 150.3L883.0 151.1L885.0 152.0L887.0 153.1L889.0 154.3L891.0 155.6L893.0 157.1L895.0 158.5L897.0 160.0L897.6 160.5L899.0 161.6L901.0 163.3L903.0 165.1L905.0 167.0L907.0 169.0L909.0 171.0L910.0 172.0L911.0 173.0L913.0 175.1L915.0 177.3L917.0 179.6L919.0 181.9L921.0 184.4L922.5 186.4L923.0 187.1L925.0 189.8L927.0 192.7L929.0 195.8L931.0 199.3L932.9 203.0L933.0 203.2L935.0 208.1L937.0 213.9L939.0 219.6L941.0 224.9L943.0 230.2L945.0 235.5L945.3 236.3L947.0 240.9L949.0 246.4L951.0 251.7L951.5 252.9L953.0 256.5L955.0 261.2L957.0 265.6L958.8 269.5L959.0 269.9L961.0 274.3L963.0 278.5L965.0 282.3L966.0 284.0L967.0 285.4L969.0 287.8L971.0 289.9L973.0 292.3L974.4 294.4L975.0 295.5L977.0 300.4L979.0 305.5L979.6 306.8L981.0 309.4L983.0 312.6L985.0 315.8L986.8 319.3L987.0 319.7L989.0 325.0L991.0 330.9L992.0 333.8L993.0 336.6L995.0 342.3L997.0 347.9L997.2 348.4L999.0 353.1L1001.0 358.1L1001.4 359.0L1003.0 362.6L1005.0 366.7L1007.0 370.7L1009.0 374.8L1011.0 379.0L1011.8 380.8L1013.0 383.7L1015.0 388.8L1017.0 394.1L1019.0 399.2L1020.0 401.5L1021.0 403.7L1023.0 407.5L1025.0 411.2L1027.0 414.9L1029.0 419.0L1030.4 422.3L1031.0 423.9L1033.0 430.4L1035.0 437.5L1036.7 443.0L1037.0 443.8L1039.0 449.1L1041.0 453.9L1043.0 458.7L1045.0 463.8L1047.0 469.2L1049.0 474.7L1051.0 480.7L1052.2 484.6L1053.0 487.4L1055.0 495.4L1057.0 503.7L1057.4 505.3L1059.0 511.6L1061.0 519.5L1062.6 526.0L1063.0 527.7L1065.0 536.9L1066.5 543.0L1067.0 544.7L1069.0 550.3L1070.6 555.0L1071.0 556.4L1073.0 563.9L1074.5 570.0L1075.0 572.1L1077.0 580.9L1079.0 589.8L1080.0 594.0L1081.0 598.0L1083.0 605.8L1085.0 612.7L1087.0 618.4L1089.0 623.5L1091.0 628.5L1091.3 629.3L1093.0 633.9L1095.0 639.5L1097.0 644.5L1097.6 645.9L1099.0 649.2L1101.0 653.8L1103.0 656.9L1103.8 657.3L1105.0 657.5L1107.0 657.7L1109.0 657.9L1111.0 658.0L1113.0 658.2L1115.0 658.2L1117.0 658.3L1119.0 658.3L1119.4 658.3L1121.0 656.8L1123.0 652.0L1125.0 646.0L1126.6 641.7L1127.0 640.8L1129.0 636.5L1131.0 632.3L1133.0 627.9L1135.0 623.0L1137.0 617.1L1139.0 610.6L1141.0 604.4L1143.0 598.4L1145.0 592.7L1147.0 588.3L1147.4 587.7L1149.0 585.8L1151.0 584.2L1153.0 582.8L1155.0 581.3L1156.7 579.4L1157.0 579.0L1159.0 575.2L1161.0 570.4L1163.0 565.2L1164.0 562.8L1165.0 560.3L1167.0 555.0L1169.0 550.1L1170.4 547.5L1171.0 546.7L1173.0 544.4L1175.0 542.7L1177.0 540.9L1178.9 538.5L1179.0 538.3L1181.0 534.3L1183.0 529.1L1185.0 524.0L1187.0 519.1L1189.0 514.2L1191.0 510.0L1191.3 509.5L1193.0 507.0L1195.0 504.8L1197.0 502.6L1199.0 500.0L1199.6 499.0L1201.0 496.1L1203.0 491.0L1204.8 486.6L1205.0 486.2L1207.0 481.8L1209.0 477.9L1210.0 476.3L1211.0 475.0L1213.0 472.7L1215.0 470.7L1217.0 468.9L1219.0 467.2L1221.0 465.3L1222.5 463.8L1223.0 463.2L1225.0 460.7L1227.0 458.0L1229.0 455.3L1231.0 453.0L1232.9 451.3L1233.0 451.2L1235.0 449.8L1237.0 448.5L1239.0 447.3L1241.0 446.5L1243.0 446.2L1243.2 446.2L1245.0 446.2L1247.0 446.2L1249.0 446.2L1251.0 446.2L1253.0 446.2L1255.0 446.2L1257.0 446.2L1257.8 446.2L1259.0 446.3L1261.0 446.7L1263.0 447.5L1265.0 448.6L1267.0 449.8L1269.0 451.1L1271.0 452.5L1272.3 453.4L1273.0 453.9L1275.0 455.3L1277.0 456.9L1279.0 458.8L1281.0 460.9L1283.0 463.4L1284.8 465.9L1285.0 466.2L1287.0 470.3L1289.0 475.7L1291.0 481.7L1292.0 484.6L1293.0 487.8L1295.0 494.9L1297.0 500.8L1297.2 501.2L1299.0 504.2L1301.0 506.6L1303.0 508.8L1305.0 511.1L1306.6 513.6L1307.0 514.4L1309.0 519.3L1311.0 525.1L1313.0 530.5L1313.8 532.3L1315.0 534.6L1317.0 538.0L1319.0 541.1L1320.0 542.5L1321.0 543.9L1323.0 546.5L1325.0 548.9L1327.0 551.1L1329.0 553.3L1329.5 553.8L1331.0 555.3L1333.0 557.2L1335.0 559.0L1337.0 560.8L1339.0 562.5L1341.0 564.2L1343.0 565.8L1345.0 567.2L1347.0 568.6L1349.0 570.3L1351.0 572.5L1353.0 576.3L1355.0 581.3L1357.0 585.5L1357.3 586.0L1359.0 588.0L1361.0 589.7L1363.0 591.1L1365.0 592.7L1367.0 595.0L1368.0 596.5L1369.0 598.8L1371.0 606.4L1373.0 615.5L1373.3 616.8L1375.0 624.6L1377.0 634.9L1377.5 637.6L1379.0 646.9L1380.6 656.3L1381.0 658.2L1383.0 666.5L1385.0 673.9L1385.8 677.0L1387.0 681.8L1389.0 690.0L1391.0 697.8L1393.0 706.1L1395.0 712.3L1397.0 714.9L1399.0 716.8L1399.7 717.5L1401.0 718.9L1403.0 721.2L1403.5 721.7"/>
<path stroke="#ff0000" d="M203.0 603.6L205.0 611.7L207.0 619.8L207.3 621.0L209.0 628.0L211.0 636.1L211.4 637.6L213.0 644.5L215.0 651.5L215.6 652.1L217.0 652.3L219.0 652.6L221.0 652.8L223.0 652.9L225.0 653.0L227.0 653.0L229.0 651.6L231.0 648.3L233.0 644.2L234.3 641.7L235.0 640.4L237.0 636.2L239.0 631.9L241.0 628.0L241.5 627.2L243.0 625.1L245.0 622.9L247.0 620.7L249.0 618.1L249.8 616.8L251.0 614.2L253.0 608.5L255.0 602.6L256.0 600.2L257.0 598.1L259.0 594.0L261.0 590.6L262.3 588.8L263.0 588.0L265.0 586.2L267.0 584.6L269.0 583.1L270.6 581.5L271.0 581.0L273.0 577.6L275.0 573.8L277.0 571.3L277.8 571.0L279.0 571.0L281.0 571.0L283.0 571.0L285.0 571.0L287.0 571.0L289.0 571.0L291.0 571.0L291.3 571.0L293.0 571.2L295.0 571.8L297.0 572.8L299.0 573.9L301.0 575.0L303.0 576.0L303.8 576.3L305.0 576.7L307.0 577.4L309.0 577.9L311.0 578.5L313.0 579.2L315.0 579.9L316.3 580.5L317.0 580.9L319.0 582.2L321.0 583.9L323.0 585.7L325.0 587.5L326.6 588.8L327.0 589.1L329.0 590.4L331.0 591.6L333.0 593.0L335.0 594.8L336.0 596.0L337.0 598.0L339.0 604.8L341.0 612.1L341.2 612.7L343.0 618.0L345.0 623.5L346.4 627.2L347.0 628.7L349.0 633.3L351.0 637.8L352.6 641.7L353.0 642.7L355.0 648.4L357.0 654.2L357.8 656.3L359.0 659.7L361.0 665.6L363.0 670.0L364.0 670.8L365.0 671.0L367.0 671.4L369.0 671.6L371.0 671.8L372.3 671.8L373.0 671.6L375.0 668.9L377.0 664.3L378.5 660.4L379.0 658.9L381.0 650.8L382.7 643.8L383.0 642.7L385.0 635.6L387.0 629.4L387.9 627.2L389.0 624.9L391.0 621.2L393.0 618.2L395.0 615.8L397.0 613.7L399.0 611.7L401.0 610.2L403.0 609.5L403.4 609.5L405.0 609.9L407.0 611.4L409.0 613.5L411.0 615.9L411.8 616.8L413.0 618.2L415.0 620.8L417.0 623.8L419.0 627.2L421.0 631.7L423.0 637.0L425.0 641.4L425.2 641.7L427.0 644.7L429.0 647.3L430.4 648.0L431.0 648.0L433.0 647.9L435.0 647.7L437.0 647.3L438.7 646.9L439.0 646.8L441.0 643.6L443.0 637.8L445.0 631.3L447.0 623.4L449.0 614.4L450.0 610.6L451.0 607.4L453.0 602.0L455.0 597.0L457.0 591.3L457.4 590.0L459.0 583.9L461.0 575.4L462.0 571.4L463.0 567.7L465.0 560.5L466.5 556.0L467.0 554.7L469.0 549.7L471.0 545.5L473.0 542.5L475.0 540.6L477.0 539.2L479.0 538.0L481.0 536.8L483.0 535.5L484.4 534.4L485.0 533.9L487.0 531.9L489.0 529.8L491.0 527.4L493.0 524.7L494.8 522.0L495.0 521.7L497.0 518.0L499.0 513.5L500.0 511.0L501.0 508.3L503.0 502.3L505.0 495.7L505.2 495.0L507.0 488.6L509.0 481.1L511.0 473.5L511.4 472.0L513.0 466.1L515.0 458.8L517.0 451.5L517.6 449.3L519.0 444.3L521.0 437.4L523.0 430.0L523.9 426.4L525.0 421.5L527.0 411.6L529.0 401.5L531.0 391.5L533.0 381.7L533.2 380.8L535.0 372.9L537.0 364.6L538.4 359.0L539.0 356.6L541.0 348.8L543.0 341.4L544.6 335.9L545.0 334.6L547.0 328.9L549.0 323.5L550.9 317.2L551.0 316.8L553.0 306.1L555.0 296.5L557.0 291.6L559.0 288.1L561.0 284.7L562.3 282.0L563.0 280.3L565.0 275.1L567.0 269.4L568.5 265.3L569.0 263.9L571.0 258.3L573.0 252.9L574.7 248.7L575.0 248.0L577.0 243.6L579.0 239.8L580.0 238.3L581.0 237.1L583.0 235.3L585.0 233.8L587.0 232.3L589.0 230.3L589.3 230.0L591.0 227.6L593.0 224.1L595.0 220.3L597.0 216.6L597.6 215.5L599.0 213.0L601.0 209.4L603.0 206.2L603.8 205.1L605.0 203.7L607.0 201.6L609.0 199.8L611.0 197.9L612.0 196.8L613.0 195.6L615.0 193.0L617.0 190.4L619.0 187.9L620.4 186.4L621.0 185.8L623.0 184.1L625.0 182.5L627.0 181.1L629.0 179.7L631.0 178.3L632.9 177.0L633.0 176.9L635.0 175.5L637.0 174.0L639.0 172.5L641.0 171.2L643.0 170.0L645.0 168.9L645.3 168.8L647.0 168.1L649.0 167.3L651.0 166.6L653.0 165.9L655.0 165.3L657.0 164.7L659.0 164.2L661.0 163.8L662.0 163.6L663.0 163.4L665.0 163.1L667.0 162.8L669.0 162.5L671.0 162.2L673.0 162.0L675.0 161.7L676.5 161.5L677.0 161.4L679.0 161.2L681.0 161.0L683.0 160.7L685.0 160.5L687.0 160.3L689.0 160.0L691.0 159.7L693.0 159.4L695.0 159.0L697.0 158.5L699.0 158.0L701.0 157.4L703.0 156.7L705.0 156.1L707.0 155.5L707.6 155.3L709.0 154.9L711.0 154.2L713.0 153.5L715.0 152.9L717.0 152.2L719.0 151.5L721.0 150.9L723.0 150.4L724.2 150.1L725.0 149.9L727.0 149.5L729.0 149.0L731.0 148.5L733.0 148.2L735.0 147.8L737.0 147.7L738.7 147.6L739.0 147.6L741.0 147.6L743.0 147.6L745.0 147.6L747.0 147.6L749.0 147.6L751.0 147.6L753.0 147.6L755.0 147.6L757.0 147.6L759.0 147.6L761.0 147.6L763.0 147.6L765.0 147.6L767.0 147.6L769.0 147.6L771.0 147.6L773.0 147.6L775.0 147.6L777.0 147.6L779.0 147.6L781.0 147.6L783.0 147.6L785.0 147.6L787.0 147.6L789.0 147.6L791.0 147.6L793.0 147.6L795.0 147.6L797.0 147.6L799.0 147.6L800.0 147.6L801.0 147.6L803.0 147.5L805.0 147.4L807.0 147.2L809.0 147.0L811.0 146.7L813.0 146.5L815.0 146.3L817.0 146.1L819.0 146.0L820.8 146.0L821.0 146.0L823.0 146.0L825.0 146.0L827.0 146.0L829.0 146.0L831.0 146.0L833.0 146.0L835.0 146.0L837.0 146.0L839.0 146.0L841.0 146.0L843.0 146.0L845.0 146.0L847.0 146.0L849.0 146.0L851.0 146.0L851.9 146.0L853.0 146.0L855.0 146.4L857.0 146.9L859.0 147.7L861.0 148.6L863.0 149.5L865.0 150.5L866.4 151.1L867.0 151.4L869.0 152.3L871.0 153.4L873.0 154.6L875.0 155.8L877.0 157.1L878.9 158.4L879.0 158.5L881.0 160.0L883.0 161.6L885.0 163.3L887.0 165.1L889.0 167.0L891.0 168.8L893.0 170.6L893.4 170.9L895.0 172.3L897.0 174.0L899.0 175.7L901.0 177.4L903.0 179.1L905.0 180.8L907.0 182.5L908.0 183.3L909.0 184.1L911.0 185.6L913.0 187.0L915.0 188.4L917.0 189.8L919.0 191.4L921.0 193.2L922.5 194.7L923.0 195.3L925.0 197.9L927.0 201.1L929.0 204.4L930.8 207.2L931.0 207.5L933.0 210.6L935.0 213.8L937.0 216.8L939.0 219.6L941.0 221.8L943.0 223.7L945.0 225.6L947.0 227.9L948.4 230.0L949.0 231.1L951.0 236.5L953.0 242.8L953.6 244.6L955.0 248.8L957.0 254.9L957.8 257.0L959.0 259.8L961.0 263.9L963.0 267.6L965.0 271.5L966.0 273.6L967.0 275.7L969.0 279.9L971.0 285.1L971.3 286.0L973.0 293.6L974.4 300.6L975.0 303.2L977.0 311.3L978.5 317.2L979.0 319.2L981.0 327.4L982.7 333.8L983.0 334.8L985.0 340.7L986.8 346.3L987.0 347.0L989.0 354.5L990.0 359.0L991.0 364.7L993.0 378.4L994.0 385.0L995.0 391.1L997.0 403.0L998.3 409.8L999.0 413.0L1001.0 421.1L1003.0 428.6L1004.5 434.7L1005.0 436.9L1007.0 446.0L1009.0 455.9L1009.7 459.6L1011.0 467.1L1013.0 479.7L1013.8 484.6L1015.0 491.9L1017.0 503.9L1018.0 509.5L1019.0 514.7L1021.0 524.6L1023.0 533.6L1023.2 534.4L1025.0 541.5L1027.0 548.7L1029.0 555.7L1029.4 557.2L1031.0 563.2L1033.0 570.5L1034.3 575.0L1035.0 577.3L1037.0 583.7L1038.8 588.5L1039.0 589.0L1041.0 593.7L1043.0 596.9L1043.6 597.2L1045.0 597.4L1047.0 597.6L1049.0 597.7L1051.0 597.8L1053.0 597.8L1053.5 597.8L1055.0 596.0L1057.0 590.4L1058.0 587.5L1059.0 584.8L1061.0 578.7L1062.3 575.0L1063.0 573.2L1065.0 568.2L1067.0 563.4L1068.0 561.0L1069.0 558.6L1071.0 553.9L1073.0 549.2L1075.0 544.2L1076.3 540.6L1077.0 538.4L1079.0 531.2L1081.0 523.8L1082.3 519.9L1083.0 518.2L1085.0 513.9L1087.0 510.1L1089.0 506.4L1090.6 503.2L1091.0 502.3L1093.0 498.1L1095.0 493.6L1096.9 488.7L1097.0 488.4L1099.0 481.8L1100.0 478.5L1101.0 475.4L1103.0 469.3L1105.0 463.6L1107.0 458.4L1108.3 455.5L1109.0 454.1L1111.0 450.6L1113.0 447.6L1115.0 444.7L1117.0 441.7L1118.7 438.9L1119.0 438.4L1121.0 434.2L1123.0 429.8L1125.0 425.6L1127.0 422.3L1129.0 419.9L1131.0 417.8L1133.0 415.9L1135.0 414.2L1137.0 412.7L1139.0 411.2L1139.4 410.9L1141.0 409.7L1143.0 408.1L1145.0 406.5L1147.0 405.1L1149.0 404.0L1151.0 403.3L1151.9 403.2L1153.0 403.1L1155.0 403.0L1157.0 402.9L1159.0 402.8L1161.0 402.7L1163.0 402.7L1165.0 402.6L1167.0 402.6L1168.5 402.6L1169.0 402.6L1171.0 402.9L1173.0 403.5L1175.0 404.3L1177.0 405.3L1179.0 406.4L1181.0 407.6L1183.0 408.8L1185.0 410.1L1187.0 411.6L1189.0 413.3L1191.0 415.2L1193.0 417.3L1195.0 419.4L1197.0 421.6L1197.6 422.3L1199.0 424.0L1201.0 426.8L1203.0 429.8L1205.0 432.8L1207.0 435.6L1208.0 436.8L1209.0 437.9L1211.0 440.0L1213.0 441.8L1215.0 443.6L1217.0 445.5L1219.0 447.6L1220.4 449.3L1221.0 450.1L1223.0 453.4L1225.0 457.1L1227.0 460.8L1228.7 463.8L1229.0 464.3L1231.0 467.5L1233.0 470.5L1235.0 473.5L1237.0 476.3L1239.0 478.8L1241.0 481.0L1243.0 483.4L1245.0 486.1L1245.3 486.6L1247.0 489.8L1249.0 494.3L1251.0 499.2L1253.0 504.0L1253.6 505.3L1255.0 508.1L1257.0 511.9L1259.0 515.6L1261.0 519.8L1261.9 521.9L1263.0 524.8L1265.0 530.7L1267.0 537.3L1268.0 540.6L1269.0 544.1L1271.0 551.5L1273.0 558.9L1273.6 561.0L1275.0 565.7L1277.0 572.1L1279.0 578.0L1281.0 583.0L1283.0 587.6L1284.8 592.5L1285.0 593.1L1287.0 601.1L1289.0 609.5L1289.3 610.6L1291.0 616.2L1293.0 622.2L1295.0 627.9L1297.0 633.7L1297.6 635.5L1299.0 639.7L1301.0 645.7L1303.0 652.0L1304.8 658.3L1305.0 659.1L1307.0 667.9L1309.0 677.1L1310.0 681.2L1311.0 685.1L1313.0 692.8L1315.0 697.6L1315.2 697.8L1317.0 699.1L1319.0 700.2L1321.0 700.8L1322.5 701.0L1323.0 701.0L1325.0 700.7L1327.0 700.0L1329.0 699.0L1330.8 697.8L1331.0 697.6L1333.0 693.2L1335.0 686.1L1337.0 679.0L1339.0 673.2L1341.0 667.4L1343.0 661.1L1343.2 660.4L1345.0 654.0L1347.0 646.0L1348.4 639.6L1349.0 636.5L1351.0 624.7L1352.6 614.7L1353.0 612.2L1355.0 599.1L1356.7 589.8L1357.0 588.6L1359.0 581.3L1361.0 575.6L1362.0 573.2L1363.0 571.0L1365.0 566.9L1367.0 563.3L1369.0 560.7L1370.2 559.7L1371.0 559.2L1373.0 558.2L1375.0 557.4L1377.0 557.0L1377.5 557.0L1379.0 557.1L1381.0 557.6L1383.0 558.4L1385.0 559.6L1386.8 560.8L1387.0 561.0L1389.0 564.1L1391.0 569.2L1393.0 575.3L1395.0 583.2L1397.0 593.0L1397.2 594.0L1399.0 604.3L1399.7 608.5L1401.0 616.0L1403.0 627.6L1403.5 630.5"/>
</g>
<g stroke="#000" stroke-width="5.6" fill="none" stroke-linecap="butt">
<line x1="205.6" y1="36.6" x2="205.6" y2="983.0"/>
<line x1="1403.1" y1="34" x2="1403.1" y2="983.0"/>
<line x1="205.6" y1="39.4" x2="1403.1" y2="39.4"/>
<line x1="205.6" y1="980.2" x2="1403.1" y2="980.2"/>
</g>
<g stroke-width="5.8" fill="none">
<line x1="620.2" y1="814.2" x2="733.6" y2="814.2" stroke="#0000ff"/>
<line x1="620.2" y1="839.3" x2="733.6" y2="839.3" stroke="#00ffff"/>
<line x1="620.2" y1="908.5" x2="733.6" y2="908.5" stroke="#ff0000"/>
<line x1="620.2" y1="933.3" x2="733.6" y2="933.3" stroke="#ff00ff"/>
</g>
<text transform="translate(0 1117.00) scale(0.9695 1)" x="389.50 475.66 526.79 576.79 629.94 656.53 707.46 761.05 816.88 846.25 886.25 927.26 954.30 1008.81 1091.58" font-size="93" fill="#000" stroke="#fff" stroke-width="2">Wavelength (μm)</text>
<text transform="translate(107.00 1000) rotate(-90) scale(0.9706 1)" x="40.39 98.87 129.42 181.01 238.35 289.33 372.31 394.86 446.37 500.54 523.45 580.21 620.21 664.55 694.38 751.07 818.80" font-size="93" fill="#000" stroke="#fff" stroke-width="2">Transmission (dB)</text>
<text transform="translate(164.31 166.40) scale(0.9367 1)" font-size="63" fill="#000" >0</text>
<text transform="translate(147.97 266.10) scale(0.9135 1)" font-size="63" fill="#000" >-5</text>
<text transform="translate(111.92 371.40) scale(0.9360 1)" font-size="63" fill="#000" >-10</text>
<text transform="translate(111.93 476.40) scale(0.9310 1)" font-size="63" fill="#000" >-15</text>
<text transform="translate(111.92 578.90) scale(0.9360 1)" font-size="63" fill="#000" >-20</text>
<text transform="translate(111.93 683.90) scale(0.9310 1)" font-size="63" fill="#000" >-25</text>
<text transform="translate(111.92 788.90) scale(0.9360 1)" font-size="63" fill="#000" >-30</text>
<text transform="translate(111.93 893.90) scale(0.9310 1)" font-size="63" fill="#000" >-35</text>
<text transform="translate(111.92 996.40) scale(0.9360 1)" font-size="63" fill="#000" >-40</text>
<text transform="translate(170.98 1041.00) scale(0.9547 1)" font-size="63" fill="#000" >1.26</text>
<text transform="translate(340.18 1041.00) scale(0.9547 1)" font-size="63" fill="#000" >1.28</text>
<text transform="translate(509.38 1041.00) scale(0.9547 1)" font-size="63" fill="#000" >1.30</text>
<text transform="translate(678.58 1041.00) scale(0.9547 1)" font-size="63" fill="#000" >1.32</text>
<text transform="translate(847.78 1041.00) scale(0.9547 1)" font-size="63" fill="#000" >1.34</text>
<text transform="translate(1016.98 1041.00) scale(0.9547 1)" font-size="63" fill="#000" >1.36</text>
<text transform="translate(1186.18 1041.00) scale(0.9547 1)" font-size="63" fill="#000" >1.38</text>
<text transform="translate(1355.67 1041.00) scale(0.8820 1)" font-size="63" fill="#000" >1.4</text>
<text transform="translate(350.91 115.40) scale(1.1910 1)" font-size="62.2" fill="#000" >//</text>
<text transform="translate(697.00 116.70) scale(0.9023 1)" font-size="67.5" fill="#000" >X</text>
<text transform="translate(469.76 853.00) scale(0.9397 1)" font-size="84.2" fill="#0000ff" >TE</text>
<text transform="translate(467.23 947.00) scale(0.9652 1)" font-size="84.2" fill="#ff0000" >TM</text>
<text transform="translate(768.58 853.10) scale(0.9250 1)" font-size="67.5" fill="#0000ff" >T</text>
<text transform="translate(768.58 947.50) scale(0.9250 1)" font-size="67.5" fill="#ff0000" >T</text>
<text transform="translate(802.44 861.30) scale(0.7776 1)" font-size="46.8" fill="#0000ff" >x</text>
<text transform="translate(802.41 952.90) scale(0.8691 1)" font-size="42.0" fill="#ff0000" >x</text>
<text transform="translate(844.17 853.10) scale(0.9869 1)" font-size="66.5" fill="#0000ff" >&gt;22dB, Q=0.56</text>
<text transform="translate(844.18 947.50) scale(0.9826 1)" font-size="66.5" fill="#ff0000" >&gt;20dB, Q=0.54</text>
</svg></body></html>
